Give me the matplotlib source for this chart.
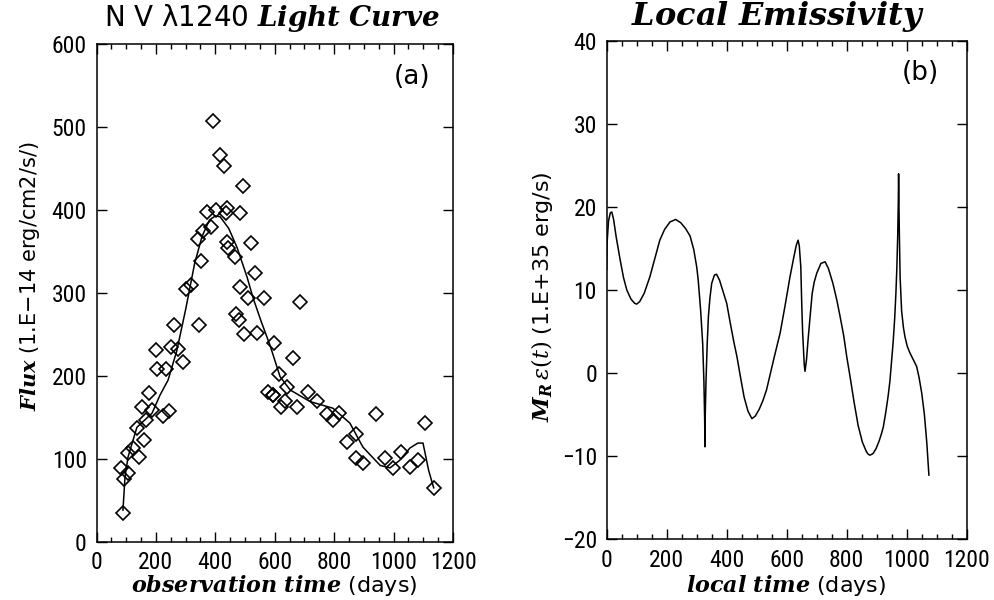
# ============================================
# N V 1240 light curve and local emissivity
# ============================================

import matplotlib
matplotlib.use("Agg")
import matplotlib.pyplot as plt
from matplotlib import font_manager
from matplotlib.ticker import MultipleLocator

# pick a narrow sans for the tick labels if one is installed
installed = {f.name for f in font_manager.fontManager.ttflist}
narrow = "DejaVu Sans"
for name in ["Liberation Sans Narrow", "DejaVu Sans Condensed", "Roboto Condensed"]:
    if name in installed:
        narrow = name
        break

plt.rcParams["font.family"] = [narrow, "DejaVu Sans"]
plt.rcParams["mathtext.fontset"] = "custom"
plt.rcParams["mathtext.bf"] = "DejaVu Serif:italic:bold"
plt.rcParams["mathtext.it"] = "DejaVu Serif:italic"
plt.rcParams["mathtext.rm"] = "DejaVu Serif"

label_font = ["DejaVu Sans"]

# ============================================
# Data
# ============================================

# (a) observed fluxes, days since outburst
obs_day = [89, 93, 106, 82, 143, 106, 123, 160, 136, 167, 224, 244, 187, 153, 177,
           200, 205, 235, 252, 262, 275, 290, 300, 318, 340, 345, 352, 360, 372,
           385, 392, 402, 416, 429, 493, 439, 436, 483, 439, 443, 520, 466, 534,
           483, 510, 564, 470, 480, 495, 540, 578, 595, 685, 598, 662, 614, 641,
           594, 635, 621, 675, 712, 742, 776, 816, 796, 941, 1106, 874, 843, 874,
           897, 971, 1025, 1082, 1055, 998, 1135]
obs_flux = [35, 76, 83, 89, 102, 107, 113, 123, 137, 147, 152, 158, 159, 162, 179,
            231, 208, 208, 235, 262, 232, 217, 305, 310, 365, 262, 338, 375, 398,
            380, 507, 400, 466, 453, 429, 402, 396, 396, 361, 354, 360, 343, 324,
            307, 294, 294, 275, 268, 250, 252, 180, 177, 289, 240, 222, 202, 187,
            177, 170, 162, 162, 181, 170, 154, 155, 147, 154, 143, 130, 120, 101,
            95, 101, 108, 99, 90, 89, 65]

# smoothed light curve
fit_day = [89, 96, 106, 136, 187, 214, 241, 270, 300, 330, 355, 380, 400, 416,
           445, 473, 507, 527, 555, 584, 618, 652, 719, 796, 853, 897, 955, 988,
           1020, 1055, 1082, 1099, 1118, 1135]
fit_flux = [38, 78, 102, 138, 155, 177, 195, 230, 280, 335, 368, 388, 393, 392,
            378, 355, 319, 294, 265, 237, 199, 183, 169, 161, 143, 114, 92, 89,
            98, 113, 119, 119, 86, 65]

# (b) local emissivity, 1.E+35 erg/s
loc_day = [0, 1, 6, 12, 17, 23, 32, 45, 56, 67, 81, 93, 100, 110, 125, 144, 162,
           177, 193, 211, 230, 247, 263, 278, 290, 300, 305, 313, 320, 324, 326.5,
           327.5, 328.5, 331, 335, 339, 344, 350, 359, 366, 376, 388, 400, 412,
           424, 434, 446, 458, 471, 484, 495, 508, 521, 533, 546, 559, 578, 595,
           611, 624, 632, 638, 642, 645, 647, 650, 653, 656, 658.5, 661, 666, 671,
           678, 685, 692, 700, 714, 728, 739, 754, 767, 778, 790, 800, 811, 825,
           838, 852, 860, 866, 872, 878, 888, 898, 908, 916, 922, 930, 938, 944,
           950, 955, 960, 964, 967, 970, 972, 973, 975, 978, 983, 989, 994, 1002,
           1011, 1022, 1033, 1041, 1050, 1059, 1067, 1074]
loc_emis = [12.5, 15.5, 18.3, 19.3, 19.4, 18.5, 16.3, 13.6, 11.5, 10.0, 8.9, 8.4,
            8.3, 8.6, 9.6, 11.6, 14.0, 16.0, 17.3, 18.2, 18.5, 18.1, 17.4, 16.5,
            14.9, 12.8, 11.2, 7.6, 3.5, -1.0, -5.5, -8.9, -5.0, -1.0, 3.5, 6.8,
            9.0, 10.8, 11.8, 11.9, 11.2, 9.8, 8.4, 6.0, 3.7, 2.0, -0.5, -2.9,
            -4.6, -5.5, -5.2, -4.4, -3.3, -2.0, 0.0, 2.0, 4.8, 8.2, 11.6, 14.0,
            15.4, 16.0, 15.3, 13.8, 12.8, 8.5, 5.0, 2.8, 1.0, 0.2, 1.6, 3.9, 6.8,
            9.6, 11.0, 12.0, 13.2, 13.4, 12.6, 10.8, 8.8, 6.8, 4.5, 2.0, -0.4,
            -3.6, -6.3, -8.3, -9.0, -9.5, -9.8, -9.9, -9.7, -9.1, -8.2, -7.3,
            -6.5, -4.8, -2.8, -1.0, 1.6, 3.8, 6.6, 9.6, 12.5, 16.5, 20.5, 24.0,
            18.0, 11.6, 7.5, 5.5, 4.4, 3.2, 2.4, 1.6, 0.8, -0.5, -2.4, -5.0,
            -8.4, -12.3]

# ============================================
# Figure
# ============================================

W, H = 994, 600
fig = plt.figure(figsize=(W / 100, H / 100), dpi=100)

def px_axes(x0, x1, ytop, ybot):
    return fig.add_axes([x0 / W, 1 - ybot / H, (x1 - x0) / W, (ybot - ytop) / H])

ax1 = px_axes(96.5, 453, 44.3, 541.7)
ax2 = px_axes(606.7, 966.7, 41, 539)

for ax in (ax1, ax2):
    ax.set_xlim(0, 1200)
    ax.xaxis.set_major_locator(MultipleLocator(200))
    ax.xaxis.set_minor_locator(MultipleLocator(50))
    ax.tick_params(which="both", direction="in", top=True, right=True,
                   labelsize=17, width=1.0, pad=7)
    ax.tick_params(which="major", length=7)
    ax.tick_params(which="minor", length=3.5)
    for s in ax.spines.values():
        s.set_linewidth(1.1)

# (a)
ax1.plot(fit_day, fit_flux, color="black", lw=1.1)
ax1.plot(obs_day, obs_flux, ls="none", marker="D", ms=7.5, mfc="none",
         mec="black", mew=1.2)
ax1.set_ylim(0, 600)
ax1.yaxis.set_major_locator(MultipleLocator(100))
ax1.text(0.885, 0.935, "(a)", transform=ax1.transAxes, fontsize=19,
         family=label_font, ha="center", va="center")

# (b)
ax2.plot(loc_day, loc_emis, color="black", lw=1.1)
ax2.set_ylim(-20, 40)
ax2.yaxis.set_major_locator(MultipleLocator(10))
ax2.text(0.87, 0.935, "(b)", transform=ax2.transAxes, fontsize=19,
         family=label_font, ha="center", va="center")

# titles and labels (mathtext bf = bold italic serif)
fig.text(272 / W, 1 - 18 / H, r"N V λ1240 $\mathbf{Light\ Curve}$",
         fontsize=20, family=label_font, ha="center", va="center")
fig.text(778 / W, 1 - 16 / H, r"$\mathbf{Local\ Emissivity}$",
         fontsize=23, family=label_font, ha="center", va="center")
fig.text(274 / W, 1 - 586 / H, r"$\mathbf{observation\ time}$ (days)",
         fontsize=16, family=label_font, ha="center", va="center")
fig.text(786 / W, 1 - 586 / H, r"$\mathbf{local\ time}$ (days)",
         fontsize=16, family=label_font, ha="center", va="center")
fig.text(30 / W, 1 - 276 / H, r"$\mathbf{Flux}$ (1.E$-$14 erg/cm2/s/)",
         fontsize=15, family=label_font, ha="center", va="center", rotation=90)
fig.text(542 / W, 1 - 297 / H,
         r"$\mathbf{M}_\mathbf{R}\,\epsilon(\mathit{t})$ (1.E+35 erg/s)",
         fontsize=16, family=label_font, ha="center", va="center", rotation=90)

fig.savefig("out.png", dpi=100)
